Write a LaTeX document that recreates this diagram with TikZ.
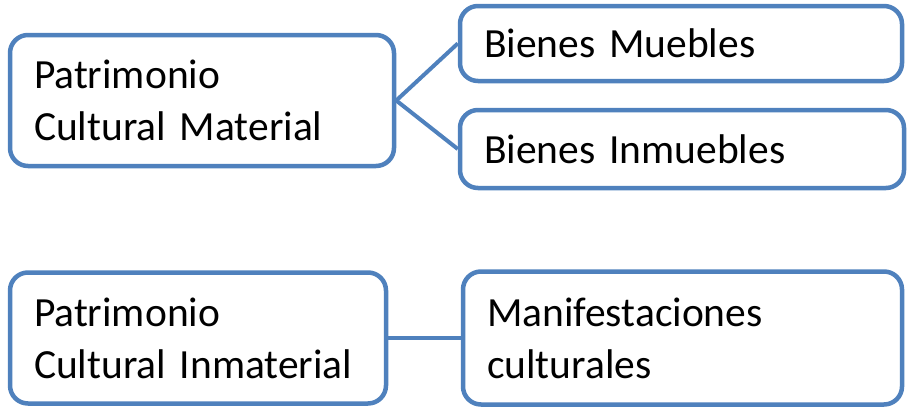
\documentclass[tikz,border=0pt]{standalone}
\usepackage{fontspec}
\setmainfont{Carlito}
\usepackage{xcolor}
\usetikzlibrary{positioning}
\definecolor{boxblue}{RGB}{79,129,189}

\begin{document}
\begin{tikzpicture}[
    x=1pt, y=-1pt,
    item/.style={draw=boxblue, line width=4.5pt, rounded corners=18pt, fill=white,
        align=left, inner xsep=24pt, inner ysep=0pt,
        font=\fontsize{41.5}{52}\selectfont},
    link/.style={draw=boxblue, line width=4pt}
]
    \useasboundingbox (0,0) rectangle (909,410);

    % Material
    \node[item, text width=336pt, minimum height=131pt] (material) at (202,100.5) {Patrimonio\\Cultural Material};
    \node[item, text width=394pt, minimum height=75pt] (muebles) at (681,43.5) {Bienes Muebles};
    \node[item, text width=396pt, minimum height=78pt] (inmuebles) at (682,149) {Bienes Inmuebles};

    % Inmaterial
    \node[item, text width=328pt, minimum height=131pt] (inmaterial) at (198,338) {Patrimonio\\Cultural Inmaterial};
    \node[item, text width=391pt, minimum height=133pt] (manifest) at (682.5,338) {Manifestaciones\\culturales};

    % Links
    \draw[link] (material.east) -- (muebles.west);
    \draw[link] (material.east) -- (inmuebles.west);
    \draw[link] (inmaterial.east) -- (manifest.west);
\end{tikzpicture}
\end{document}
